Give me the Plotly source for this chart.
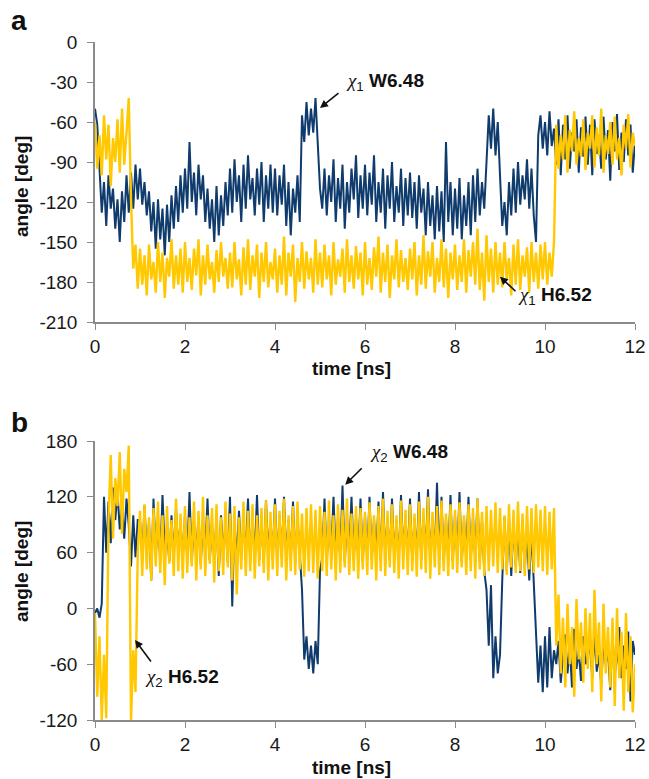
import plotly.graph_objects as go

# sampling grid (ns), 0.05 ns steps from 0 to 12
time_ns = [round(0.05 * i, 2) for i in range(241)]

# Panel a: chi1 dihedral angles (deg)
chi1_W648 = [
    -50, -62, -95, -128, -105, -138, -100, -125, -110, -140, -118, -150, -112, -135, -100, -128, -98, -125, -92, -118,
    -95, -122, -105, -130, -112, -142, -120, -155, -118, -148, -125, -160, -122, -150, -115, -140, -108, -135, -100, -128,
    -95, -125, -75, -120, -98, -130, -92, -118, -100, -135, -110, -140, -118, -150, -108, -145, -115, -138, -105, -130,
    -95, -128, -88, -120, -100, -135, -92, -125, -85, -118, -102, -130, -95, -122, -90, -135, -100, -125, -92, -128,
    -95, -130, -100, -122, -92, -138, -105, -145, -110, -128, -100, -135, -55, -75, -45, -70, -50, -68, -42, -78,
    -110, -125, -95, -130, -100, -120, -88, -135, -102, -125, -92, -140, -105, -128, -95, -118, -85, -132, -100, -125,
    -92, -130, -98, -122, -85, -135, -105, -128, -95, -140, -100, -125, -90, -135, -108, -128, -95, -138, -102, -130,
    -98, -132, -105, -140, -100, -128, -110, -145, -105, -138, -115, -148, -108, -142, -112, -150, -75, -135, -105, -145,
    -110, -140, -102, -148, -115, -138, -105, -145, -100, -135, -95, -130, -105, -125, -90, -55, -80, -50, -85, -60,
    -100, -138, -120, -145, -105, -130, -95, -128, -90, -122, -100, -118, -88, -125, -95, -130, -150, -70, -55, -80,
    -60, -85, -52, -78, -65, -92, -58, -100, -62, -88, -55, -95, -68, -82, -58, -98, -64, -86, -56, -92,
    -62, -100, -58, -84, -70, -95, -56, -88, -66, -104, -60, -82, -54, -96, -68, -90, -58, -85, -62, -98,
    -75,
]

chi1_H652 = [
    -60, -95, -70, -100, -55, -88, -62, -108, -72, -90, -58, -98, -50, -92, -68, -42, -118, -170, -152, -185,
    -155, -182, -160, -190, -152, -178, -165, -188, -150, -180, -158, -192, -162, -176, -148, -185, -160, -182, -155, -188,
    -150, -180, -162, -186, -155, -175, -148, -190, -160, -182, -152, -178, -165, -188, -156, -180, -150, -176, -162, -185,
    -158, -184, -150, -178, -163, -190, -154, -182, -148, -186, -160, -176, -152, -192, -158, -180, -150, -184, -165, -178,
    -155, -188, -160, -182, -146, -190, -158, -176, -152, -195, -162, -180, -150, -185, -157, -178, -162, -188, -148, -182,
    -158, -184, -152, -178, -160, -190, -150, -182, -163, -176, -155, -188, -148, -180, -160, -185, -153, -178, -158, -190,
    -150, -182, -162, -186, -154, -176, -146, -188, -158, -180, -152, -192, -160, -178, -148, -184, -156, -180, -162, -186,
    -155, -178, -150, -190, -160, -182, -145, -185, -157, -176, -150, -188, -162, -180, -148, -184, -155, -192, -158, -178,
    -152, -186, -160, -180, -148, -188, -156, -176, -150, -182, -140, -186, -158, -194, -145, -180, -155, -188, -150, -182,
    -158, -184, -150, -178, -162, -190, -152, -182, -148, -186, -160, -176, -154, -188, -150, -180, -158, -185, -152, -178,
    -150, -182, -158, -176, -150, -62, -95, -70, -88, -55, -98, -66, -82, -52, -92, -72, -86, -58, -96, -68,
    -80, -55, -94, -64, -85, -50, -98, -70, -84, -60, -92, -56, -88, -72, -100, -62, -80, -54, -94, -68,
    -78,
]

# Panel b: chi2 dihedral angles (deg)
chi2_W648 = [
    -5, 0, -10, 5, 120, 60, 115, 70, 130, 95, 125, 85, 110, 75, 118, 90, 45, 100, 55, 95,
    95, 55, 110, 60, 92, 30, 118, 58, 90, 52, 122, 62, 88, 50, 100, 55, 108, 60, 95, 52,
    100, 55, 125, 50, 92, 60, 98, 48, 94, 58, 118, 52, 90, 55, 96, 35, 100, 60, 92, 50,
    120, 2, 95, 52, 105, 55, 92, 60, 118, 50, 98, 55, 122, 52, 94, 48, 116, 58, 96, 52,
    118, 50, 100, 55, 120, 55, 95, 52, 115, 50, 98, 52, 20, -55, -30, -65, -40, -70, -35, -60,
    40, 55, 118, 50, 96, 58, 120, 55, 98, 52, 132, 50, 95, 58, 120, 52, 98, 55, 118, 50,
    100, 55, 120, 52, 96, 58, 115, 50, 125, 55, 98, 52, 118, 55, 94, 50, 122, 58, 100, 52,
    118, 50, 96, 55, 125, 52, 100, 58, 128, 50, 98, 55, 135, 52, 120, 50, 96, 55, 122, 50,
    100, 55, 125, 50, 96, 58, 120, 52, 98, 55, 118, 50, 95, 40, 20, -40, 25, -75, -30, -70,
    -50, 30, 98, 40, 95, 35, 92, 45, 88, 38, 95, 42, 80, 30, 85, 28, -25, -80, -40, -90,
    -30, -85, -20, -75, -45, -60, -35, -80, -50, -28, -70, -40, -85, -22, -65, -45, -78, -30, -60, -50,
    -40, -75, -25, -68, -50, -82, -35, -60, -45, -88, -30, -70, -55, -20, -75, -40, -65, -25, -100, -35,
    -50,
]

chi2_H652 = [
    -5, -95, -30, -120, -50, -118, 95, 165, 75, 140, 110, 168, 80, 150, 125, 175, -122, -45, -90, 60,
    105, 35, 112, 42, 98, 30, 108, 45, 115, 38, 100, 25, 110, 48, 95, 35, 118, 40, 102, 32,
    110, 38, 98, 45, 115, 30, 105, 42, 120, 35, 100, 48, 108, 28, 112, 40, 98, 36, 115, 44,
    102, 30, 110, 15, 98, 42, 115, 35, 105, 40, 112, 32, 100, 45, 108, 38, 116, 30, 104, 42,
    112, 35, 105, 44, 118, 30, 100, 40, 110, 36, 115, 42, 102, 34, 108, 40, 112, 38, 106, 32,
    110, 40, 104, 35, 116, 42, 100, 30, 112, 38, 106, 44, 118, 36, 102, 40, 110, 32, 108, 42,
    104, 36, 114, 42, 100, 30, 110, 40, 118, 35, 105, 44, 112, 38, 100, 32, 116, 42, 106, 36,
    112, 40, 102, 34, 115, 42, 108, 38, 120, 32, 104, 44, 110, 36, 116, 40, 102, 35, 112, 42,
    106, 38, 114, 44, 100, 36, 112, 40, 108, 32, 118, 42, 104, 35, 110, 40, 106, 45, 114, 38,
    108, 42, 100, 36, 112, 44, 106, 38, 115, 40, 102, 35, 110, 42, 108, 38, 112, 44, 106, 40,
    110, 36, 104, 42, 108, -40, 15, -70, -10, -85, 5, -60, -20, -95, 10, -55, -15, -80, 0, -65,
    -5, -90, 20, -60, -15, -100, 5, -70, -20, -85, -10, -105, 0, -75, -25, -110, -5, -90, -30, -112,
    -60,
]

x_ticks = [0, 2, 4, 6, 8, 10, 12]
y_ticks_a = [0, -30, -60, -90, -120, -150, -180, -210]
y_ticks_b = [180, 120, 60, 0, -60, -120]

NAVY = "#0f3b6d"
GOLD = "#ffc800"
W, H = 649, 779
FONT = "Liberation Sans, Arial, sans-serif"

def px(x):
    return x / W

def py(y):
    return 1 - y / H

fig = go.Figure()
lw_navy = 2.0
lw_gold = 2.4
fig.add_trace(go.Scatter(x=time_ns, y=chi1_W648, mode="lines", line=dict(color=NAVY, width=lw_navy),
                         xaxis="x", yaxis="y", showlegend=False))
fig.add_trace(go.Scatter(x=time_ns, y=chi1_H652, mode="lines", line=dict(color=GOLD, width=lw_gold),
                         xaxis="x", yaxis="y", showlegend=False))
fig.add_trace(go.Scatter(x=time_ns, y=chi2_W648, mode="lines", line=dict(color=NAVY, width=lw_navy),
                         xaxis="x2", yaxis="y2", showlegend=False))
fig.add_trace(go.Scatter(x=time_ns, y=chi2_H652, mode="lines", line=dict(color=GOLD, width=lw_gold),
                         xaxis="x2", yaxis="y2", showlegend=False))

axis_common = dict(
    showline=True, linecolor="#8a8a8a", linewidth=1.5,
    ticks="outside", ticklen=6, tickwidth=1.2, tickcolor="#8a8a8a",
    showgrid=False, zeroline=False, automargin=False,
    tickfont=dict(family=FONT, size=19, color="#1a1a1a"),
)

def labels_of(vals):
    return [str(v) for v in vals]

xdom = [px(95), px(635)]
fig.update_layout(
    template="none",
    width=W, height=H,
    margin=dict(l=0, r=0, t=0, b=0, pad=0),
    paper_bgcolor="white", plot_bgcolor="white",
    xaxis=dict(domain=xdom, range=[0, 12], tickvals=x_ticks, ticktext=labels_of(x_ticks), anchor="y",
               ticklabelstandoff=0, **axis_common),
    yaxis=dict(domain=[py(322), py(42)], range=[-210, 0], tickvals=y_ticks_a, ticktext=labels_of(y_ticks_a),
               anchor="x", ticklabelstandoff=6, **axis_common),
    xaxis2=dict(domain=xdom, range=[0, 12], tickvals=x_ticks, ticktext=labels_of(x_ticks), anchor="y2",
                ticklabelstandoff=0, **axis_common),
    yaxis2=dict(domain=[py(720), py(441)], range=[-120, 180], tickvals=y_ticks_b, ticktext=labels_of(y_ticks_b),
                anchor="x2", ticklabelstandoff=6, **axis_common),
)

ann = []
bold = dict(family=FONT, size=19, color="#111111")
CHI = '<span style="font-family:\'Liberation Serif\', \'DejaVu Serif\', serif"><i>χ</i></span>'
# panel letters
ann.append(dict(text="<b>a</b>", x=px(9), y=py(21), xref="paper", yref="paper", xanchor="left",
                yanchor="middle", showarrow=False, font=dict(family=FONT, size=28, color="#111")))
ann.append(dict(text="<b>b</b>", x=px(9), y=py(422), xref="paper", yref="paper", xanchor="left",
                yanchor="middle", showarrow=False, font=dict(family=FONT, size=28, color="#111")))
# axis titles
for yc in (187, 572):
    ann.append(dict(text="<b>angle [deg]</b>", x=px(21), y=py(yc), xref="paper", yref="paper",
                    xanchor="center", yanchor="middle", textangle=-90, showarrow=False, font=bold))
for yc in (369, 767):
    ann.append(dict(text="<b>time [ns]</b>", x=px(351), y=py(yc), xref="paper", yref="paper",
                    xanchor="center", yanchor="middle", showarrow=False, font=bold))

# series labels
labels = [
    (CHI + "<sub>1</sub> <b>W6.48</b>", 344, 82),
    (CHI + "<sub>1</sub> <b>H6.52</b>", 516, 296),
    (CHI + "<sub>2</sub> <b>W6.48</b>", 368, 453),
    (CHI + "<sub>2</sub> <b>H6.52</b>", 143, 678),
]
for txt, xp, yp in labels:
    ann.append(dict(text=txt, x=px(xp), y=py(yp), xref="paper", yref="paper", xanchor="left",
                    yanchor="middle", showarrow=False, font=bold))

# arrows: (tip t, tip angle, axis refs, tail offset in px)
arrows = [
    (5.0, -49.5, "x", "y", 20, -16),
    (9.0, -176, "x", "y", 17, 16),
    (5.56, 133, "x2", "y2", 18, -18),
    (0.89, -34, "x2", "y2", 17, 23),
]
for xt, yt, xr, yr, axo, ayo in arrows:
    ann.append(dict(text="", x=xt, y=yt, xref=xr, yref=yr, ax=axo, ay=ayo, showarrow=True,
                    arrowhead=2, arrowsize=1, arrowwidth=1.6, arrowcolor="#111"))

fig.update_layout(annotations=ann)
fig.write_html(
    "out.html",
    config={"displayModeBar": False},
    post_script="document.body.style.margin='0';document.body.style.padding='0';document.body.style.overflow='hidden';",
)
